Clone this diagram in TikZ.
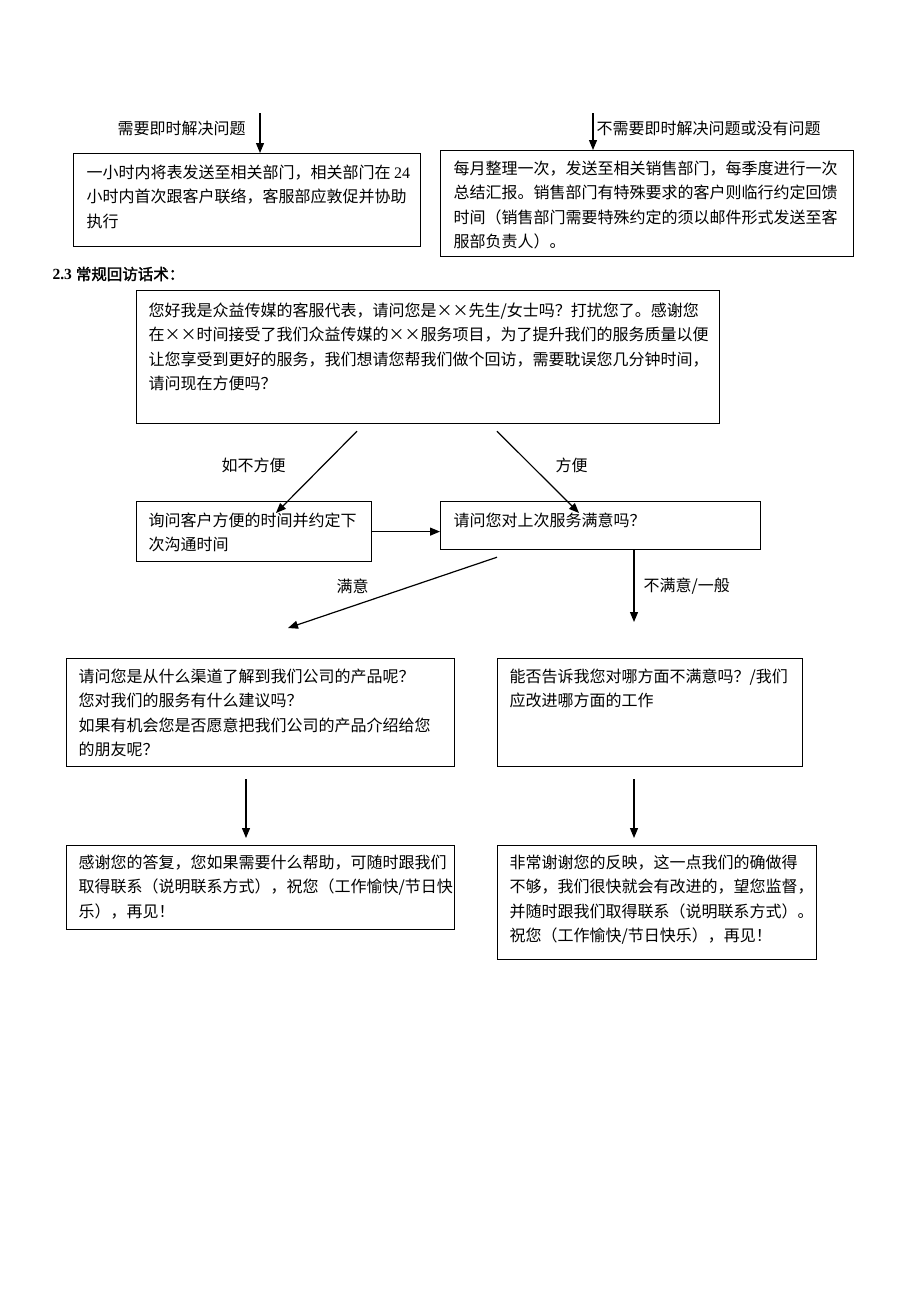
\documentclass[tikz,border=0pt]{standalone}
\usepackage{fontspec}
\setmainfont{Liberation Serif}
\newfontfamily\cjk{Noto Sans CJK SC}
\newfontfamily\cjkb[FakeBold=2]{Noto Sans CJK SC}
\usetikzlibrary{arrows.meta}
\begin{document}
\begin{tikzpicture}[x=1pt, y=-1pt, line width=1.2pt,
  >={Triangle[length=10pt,width=8pt]},
  box/.style = {draw, anchor=north west, inner sep=0pt},
  txt/.style = {anchor=north west, inner sep=0pt, align=left, font=\cjk\fontsize{16pt}{24.5pt}\selectfont},
  lbl/.style = {anchor=west, inner sep=0pt, font=\cjk\fontsize{16pt}{19pt}\selectfont}]
\useasboundingbox (0,0) rectangle (920,1302);
% first two branches
\coordinate (top1) at (260,113);
\coordinate (top2) at (593,113);
\node[lbl] (need) at (117,128) {需要即时解决问题};
\node[lbl] (noneed) at (596,128) {不需要即时解决问题或没有问题};
\node[box, minimum width=347pt, minimum height=93pt] (A1) at (73,153) {};
\node[txt] (A1t) at ([xshift=13pt,yshift=-11pt]A1.north west) {一小时内将表发送至相关部门，相关部门在 {\rmfamily 24}\\小时内首次跟客户联络，客服部应敦促并协助\\执行};
\node[box, minimum width=413pt, minimum height=106pt] (A2) at (440,150) {};
\node[txt] (A2t) at ([xshift=13pt,yshift=-10pt]A2.north west) {每月整理一次，发送至相关销售部门，每季度进行一次\\总结汇报。销售部门有特殊要求的客户则临行约定回馈\\时间（销售部门需要特殊约定的须以邮件形式发送至客\\服部负责人）。};
\draw[->] (top1) -- (top1 |- A1.north);
\draw[->] (top2) -- (top2 |- A2.north);
% 2.3
\node[anchor=west, inner sep=0pt, font=\fontsize{15.5pt}{18pt}\selectfont] (head) at (52,274) {{\bfseries 2.3 }{\cjkb 常规回访话术：}};
\node[box, minimum width=583pt, minimum height=133pt] (B) at (136,290) {};
\node[txt] (Bt) at ([xshift=12pt,yshift=-12pt]B.north west) {您好我是众益传媒的客服代表，请问您是××先生/女士吗？打扰您了。感谢您\\在××时间接受了我们众益传媒的××服务项目，为了提升我们的服务质量以便\\让您享受到更好的服务，我们想请您帮我们做个回访，需要耽误您几分钟时间，\\请问现在方便吗？};
\node[box, minimum width=235pt, minimum height=60pt] (C) at (136,501) {};
\node[txt] (Ct) at ([xshift=12pt,yshift=-11pt]C.north west) {询问客户方便的时间并约定下\\次沟通时间};
\node[box, minimum width=320pt, minimum height=48pt] (D) at (440,501) {};
\node[txt] (Dt) at ([xshift=13pt,yshift=-11pt]D.north west) {请问您对上次服务满意吗？};
\node[lbl] (nconv) at (221,465) {如不方便};
\node[lbl] (conv) at (555,465) {方便};
\draw[->] ([xshift=221pt,yshift=-7pt]B.south west) -- ([xshift=140pt,yshift=-12pt]C.north west);
\draw[->] ([xshift=361pt,yshift=-7pt]B.south west) -- ([xshift=139pt,yshift=-12pt]D.north west);
\draw[->] (C.east) -- (C.east -| D.west);
% satisfied or not
\node[lbl] (sat) at (336,586) {满意};
\node[lbl] (unsat) at (643,586) {不满意/一般};
\node[box, minimum width=388pt, minimum height=108pt] (E) at (66,658) {};
\node[txt] (Et) at ([xshift=12pt,yshift=-10pt]E.north west) {请问您是从什么渠道了解到我们公司的产品呢？\\您对我们的服务有什么建议吗？\\如果有机会您是否愿意把我们公司的产品介绍给您\\的朋友呢？};
\node[box, minimum width=305pt, minimum height=108pt] (F) at (497,658) {};
\node[txt] (Ft) at ([xshift=12pt,yshift=-10pt]F.north west) {能否告诉我您对哪方面不满意吗？/我们\\应改进哪方面的工作};
\draw[->] ([xshift=57pt,yshift=-7pt]D.south west) -- ([xshift=222pt,yshift=30pt]E.north west);
\draw[->] ([xshift=194pt]D.south west) -- ([xshift=137pt,yshift=36pt]F.north west);
% closing words
\node[box, minimum width=388pt, minimum height=84pt] (G) at (66,845) {};
\node[txt] (Gt) at ([xshift=12pt,yshift=-9pt]G.north west) {感谢您的答复，您如果需要什么帮助，可随时跟我们\\取得联系（说明联系方式），祝您（工作愉快/节日快\\乐），再见！};
\node[box, minimum width=319pt, minimum height=114pt] (H) at (497,845) {};
\node[txt] (Ht) at ([xshift=12pt,yshift=-9pt]H.north west) {非常谢谢您的反映，这一点我们的确做得\\不够，我们很快就会有改进的，望您监督，\\并随时跟我们取得联系（说明联系方式）。\\祝您（工作愉快/节日快乐），再见！};
\draw[->] ([xshift=180pt,yshift=-12pt]E.south west) -- ([xshift=180pt,yshift=7pt]G.north west);
\draw[->] ([xshift=137pt,yshift=-12pt]F.south west) -- ([xshift=137pt,yshift=7pt]H.north west);
\end{tikzpicture}
\end{document}
